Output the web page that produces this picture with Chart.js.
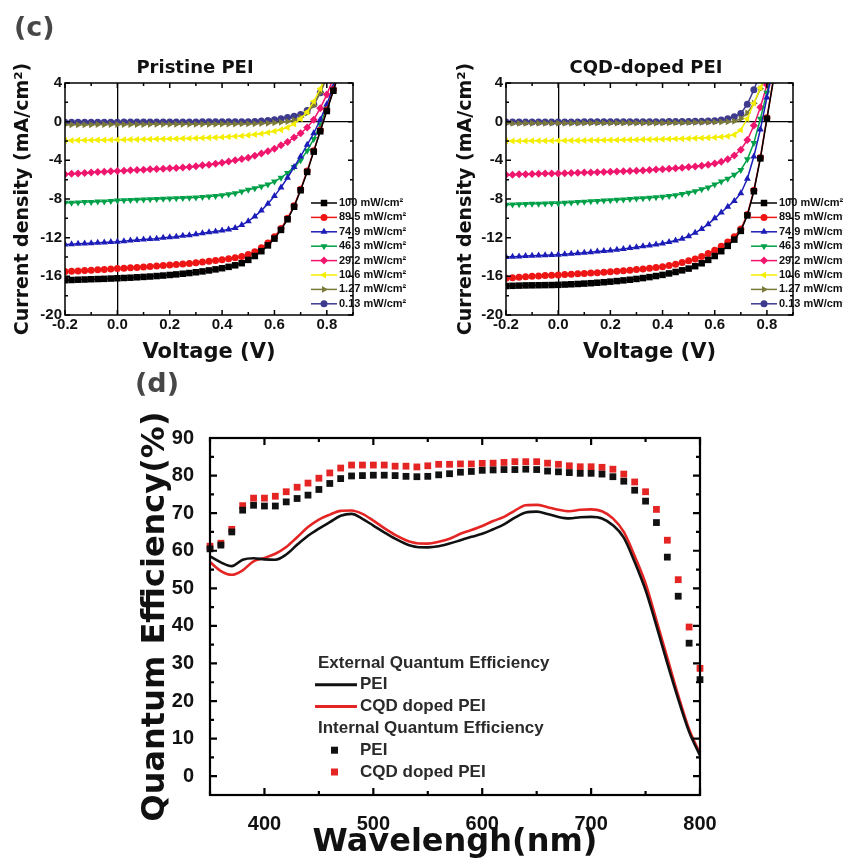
<!DOCTYPE html>
<html>
<head>
<meta charset="utf-8">
<script src="https://cdn.jsdelivr.net/npm/chart.js@4.4.1/dist/chart.umd.min.js"></script>
<style>
  body { margin: 0; background: #fff; }
  #page { position: relative; width: 843px; height: 859px; overflow: hidden; }
  canvas { position: absolute; }
  .lbl { position: absolute; font-family: 'DejaVu Sans', sans-serif; font-weight: bold; white-space: nowrap; }
  .panel { font-size: 27px; line-height: 27px; color: #474747; }
  .ttl { font-size: 18px; line-height: 20px; color: #111; transform: translateX(-50%); }
</style>
</head>
<body>
<div id="page">
  <canvas id="jvPristine" width="430" height="370" style="left:0;top:0"></canvas>
  <canvas id="jvDoped" width="403" height="370" style="left:440px;top:0"></canvas>
  <canvas id="qeChart" width="743" height="489" style="left:100px;top:370px"></canvas>
  <div class="lbl panel" style="left:14px;top:13px">(c)</div>
  <div class="lbl panel" style="left:135px;top:369px">(d)</div>
  <div class="lbl ttl" style="left:195px;top:57px">Pristine PEI</div>
  <div class="lbl ttl" style="left:646px;top:57px">CQD-doped PEI</div>
</div>
<script>
// ---- data: J-V curves (mA/cm2) vs voltage (V)
const voltage = [-0.2, -0.175, -0.15, -0.125, -0.1, -0.075, -0.05, -0.025, 0, 0.025,
  0.05, 0.075, 0.1, 0.125, 0.15, 0.175, 0.2, 0.225, 0.25, 0.275,
  0.3, 0.325, 0.35, 0.375, 0.4, 0.425, 0.45, 0.475, 0.5, 0.525,
  0.55, 0.575, 0.6, 0.625, 0.65, 0.675, 0.7, 0.725, 0.75, 0.775,
  0.8, 0.825, 0.85];
const voltTicks = [-0.2, 0, 0.2, 0.4, 0.6, 0.8];
const currentTicks = [-20, -16, -12, -8, -4, 0, 4];
const powerLabels = ['100 mW/cm²', '89.5 mW/cm²', '74.9 mW/cm²', '46.3 mW/cm²',
  '29.2 mW/cm²', '10.6 mW/cm²', '1.27 mW/cm²', '0.13 mW/cm²'];

// pristine PEI
const pri100 = [-16.4, -16.38, -16.35, -16.33, -16.3, -16.28, -16.26, -16.23, -16.2, -16.17,
  -16.14, -16.1, -16.06, -16.02, -15.97, -15.92, -15.86, -15.8, -15.73, -15.66,
  -15.58, -15.49, -15.39, -15.28, -15.16, -15.02, -14.86, -14.64, -14.3, -13.9,
  -13.4, -12.8, -12.1, -11.2, -10.1, -8.8, -7.1, -5.2, -3.1, -1.0,
  1.1, 3.2, 5.4];
const pri89 = [-15.5, -15.47, -15.44, -15.4, -15.37, -15.33, -15.29, -15.25, -15.2, -15.16,
  -15.12, -15.08, -15.03, -14.98, -14.93, -14.88, -14.83, -14.78, -14.72, -14.66,
  -14.6, -14.53, -14.45, -14.37, -14.28, -14.18, -14.07, -13.95, -13.75, -13.45,
  -13.05, -12.55, -11.9, -11.05, -10.0, -8.7, -7.0, -5.1, -3.0, -0.9,
  1.2, 3.3, 5.5];
const pri75 = [-12.7, -12.67, -12.63, -12.6, -12.57, -12.53, -12.5, -12.46, -12.43, -12.38,
  -12.3, -12.25, -12.2, -12.15, -12.1, -12.0, -11.95, -11.9, -11.8, -11.75,
  -11.65, -11.55, -11.45, -11.35, -11.25, -11.15, -11.0, -10.7, -10.3, -9.8,
  -9.2, -8.5, -7.7, -6.8, -5.8, -4.7, -3.6, -2.4, -1.2, 0.2,
  1.8, 3.6, 5.5];
const pri46 = [-8.4, -8.38, -8.35, -8.32, -8.3, -8.27, -8.25, -8.2, -8.15, -8.12,
  -8.1, -8.07, -8.05, -8.02, -8.0, -7.97, -7.95, -7.92, -7.9, -7.87,
  -7.85, -7.8, -7.75, -7.7, -7.62, -7.52, -7.4, -7.22, -7.05, -6.88,
  -6.7, -6.5, -6.2, -5.8, -5.3, -4.7, -4.0, -3.0, -1.8, -0.3,
  1.4, 3.3, 5.3];
const pri29 = [-5.45, -5.4, -5.35, -5.3, -5.25, -5.2, -5.17, -5.13, -5.1, -5.07,
  -5.03, -5.0, -4.97, -4.93, -4.9, -4.87, -4.83, -4.8, -4.75, -4.7,
  -4.6, -4.52, -4.45, -4.35, -4.25, -4.12, -4.0, -3.87, -3.72, -3.52,
  -3.3, -3.06, -2.8, -2.45, -2.1, -1.65, -1.2, -0.6, 0.2, 1.4,
  2.8, 4.5, 6.2];
const pri11 = [-1.95, -1.94, -1.93, -1.92, -1.91, -1.9, -1.89, -1.88, -1.87, -1.86,
  -1.85, -1.84, -1.83, -1.82, -1.8, -1.79, -1.78, -1.76, -1.75, -1.73,
  -1.71, -1.69, -1.66, -1.63, -1.6, -1.56, -1.52, -1.47, -1.41, -1.33,
  -1.24, -1.13, -1.0, -0.83, -0.6, -0.25, 0.3, 1.0, 2.1, 3.4,
  5.0, 6.8, 8.6];
const pri1 = [-0.32, -0.32, -0.31, -0.31, -0.31, -0.3, -0.3, -0.3, -0.3, -0.29,
  -0.29, -0.29, -0.29, -0.28, -0.28, -0.28, -0.28, -0.27, -0.27, -0.27,
  -0.27, -0.26, -0.26, -0.26, -0.25, -0.25, -0.24, -0.23, -0.22, -0.21,
  -0.19, -0.16, -0.12, -0.06, 0.02, 0.15, 0.45, 0.9, 1.7, 3.0,
  4.6, 6.3, 8.0];
const pri01 = [-0.06, -0.06, -0.06, -0.05, -0.05, -0.05, -0.05, -0.05, -0.05, -0.04,
  -0.04, -0.04, -0.04, -0.04, -0.04, -0.03, -0.03, -0.03, -0.03, -0.03,
  -0.03, -0.02, -0.02, -0.02, -0.02, -0.01, -0.01, 0.0, 0.0, 0.03,
  0.07, 0.12, 0.2, 0.3, 0.42, 0.55, 0.75, 1.15, 1.8, 3.0,
  4.6, 6.3, 8.0];

// CQD-doped PEI
const cqd100 = [-17.0, -16.98, -16.96, -16.94, -16.93, -16.92, -16.91, -16.9, -16.88, -16.85,
  -16.82, -16.79, -16.75, -16.71, -16.66, -16.61, -16.55, -16.49, -16.42, -16.35,
  -16.27, -16.18, -16.08, -15.97, -15.85, -15.7, -15.55, -15.38, -15.2, -14.95,
  -14.65, -14.3, -13.9, -13.4, -12.85, -12.2, -11.3, -9.7, -7.2, -3.8,
  0.3, 4.3, 8.0];
const cqd89 = [-16.2, -16.15, -16.1, -16.05, -16.0, -15.96, -15.92, -15.88, -15.85, -15.82,
  -15.78, -15.74, -15.7, -15.66, -15.62, -15.57, -15.52, -15.47, -15.42, -15.36,
  -15.3, -15.23, -15.16, -15.08, -15.0, -14.88, -14.75, -14.58, -14.4, -14.2,
  -13.95, -13.65, -13.3, -12.9, -12.45, -11.9, -11.1, -9.6, -7.1, -3.7,
  0.4, 4.4, 8.0];
const cqd75 = [-14.0, -13.97, -13.94, -13.9, -13.87, -13.84, -13.82, -13.8, -13.78, -13.72,
  -13.66, -13.6, -13.55, -13.5, -13.44, -13.38, -13.32, -13.24, -13.16, -13.08,
  -13.0, -12.9, -12.8, -12.7, -12.6, -12.45, -12.3, -12.1, -11.85, -11.5,
  -11.1, -10.6, -10.0, -9.4, -8.8, -8.2, -7.4, -5.9, -3.6, -0.8,
  2.5, 5.8, 9.0];
const cqd46 = [-8.6, -8.58, -8.55, -8.52, -8.5, -8.48, -8.46, -8.45, -8.43, -8.4,
  -8.36, -8.32, -8.28, -8.24, -8.2, -8.16, -8.12, -8.08, -8.04, -8.0,
  -7.96, -7.92, -7.88, -7.83, -7.78, -7.7, -7.6, -7.48, -7.35, -7.2,
  -7.0, -6.8, -6.5, -6.2, -5.9, -5.5, -5.0, -3.9, -2.2, 0.3,
  3.0, 5.8, 8.6];
const cqd29 = [-5.5, -5.48, -5.45, -5.43, -5.41, -5.39, -5.37, -5.36, -5.35, -5.33,
  -5.31, -5.29, -5.27, -5.25, -5.23, -5.21, -5.19, -5.16, -5.13, -5.1,
  -5.07, -5.04, -5.0, -4.96, -4.92, -4.87, -4.82, -4.76, -4.7, -4.63,
  -4.55, -4.45, -4.32, -4.15, -3.9, -3.5, -2.9, -1.9, -0.4, 1.5,
  3.8, 6.3, 9.0];
const cqd11 = [-2.0, -2.0, -1.99, -1.99, -1.98, -1.98, -1.97, -1.97, -1.96, -1.96,
  -1.95, -1.94, -1.94, -1.93, -1.92, -1.91, -1.9, -1.89, -1.88, -1.87,
  -1.86, -1.85, -1.84, -1.83, -1.82, -1.8, -1.78, -1.76, -1.74, -1.72,
  -1.7, -1.67, -1.63, -1.57, -1.5, -1.35, -0.85, 0.3, 1.9, 3.5,
  5.3, 7.2, 9.0];
const cqd1 = [-0.18, -0.18, -0.18, -0.17, -0.17, -0.17, -0.17, -0.16, -0.16, -0.16,
  -0.16, -0.16, -0.15, -0.15, -0.15, -0.15, -0.15, -0.14, -0.14, -0.14,
  -0.14, -0.14, -0.13, -0.13, -0.13, -0.12, -0.12, -0.11, -0.1, -0.09,
  -0.08, -0.07, -0.05, -0.03, 0.0, 0.05, 0.3, 0.9, 1.9, 3.4,
  5.0, 6.8, 8.6];
const cqd01 = [-0.04, -0.04, -0.04, -0.04, -0.04, -0.03, -0.03, -0.03, -0.03, -0.03,
  -0.03, -0.03, -0.02, -0.02, -0.02, -0.02, -0.02, -0.02, -0.01, -0.01,
  -0.01, -0.01, 0.0, 0.0, 0.0, 0.01, 0.01, 0.02, 0.03, 0.04,
  0.05, 0.07, 0.1, 0.18, 0.3, 0.5, 0.85, 1.8, 3.3, 5.0,
  6.8, 8.6, 10.0];

// ---- data: quantum efficiency (%) vs wavelength (nm)
const wavelength = [350, 360, 370, 380, 390, 400, 410, 420, 430, 440,
  450, 460, 470, 480, 490, 500, 510, 520, 530, 540,
  550, 560, 570, 580, 590, 600, 610, 620, 630, 640,
  650, 660, 670, 680, 690, 700, 710, 720, 730, 740,
  750, 760, 770, 780, 790, 800];
const wlTicks = [400, 500, 600, 700, 800];
const qeTicks = [0, 10, 20, 30, 40, 50, 60, 70, 80, 90];
const eqePei = [58.5, 56.9, 55.9, 57.6, 58.0, 57.7, 57.6, 59.0, 61.6, 64.0,
  65.9, 67.6, 69.3, 69.8, 68.5, 66.7, 64.9, 63.2, 61.8, 61.0,
  60.9, 61.2, 61.9, 62.8, 63.7, 64.5, 65.7, 67.0, 68.8, 70.2,
  70.4, 69.8, 69.0, 68.6, 68.9, 69.0, 68.6, 66.8, 63.5, 57.0,
  49.5, 40.0, 30.0, 20.5, 11.8, 5.5];
const eqeCqd = [57.0, 54.6, 53.6, 54.8, 57.2, 58.1, 59.2, 61.0, 63.6, 66.3,
  68.3, 69.6, 70.6, 70.7, 69.8, 68.0, 66.0, 64.2, 62.8, 62.0,
  61.9, 62.4, 63.2, 64.5, 65.5, 66.6, 67.9, 69.0, 70.7, 72.1,
  72.2, 71.6, 70.9, 70.5, 70.9, 71.0, 70.5, 68.6, 65.0, 58.6,
  51.3, 41.5, 31.5, 21.5, 12.5, 6.0];
const iqePei = [60.5, 61.5, 65.0, 70.8, 72.1, 71.9, 71.9, 73.0, 73.9, 74.8,
  76.3, 77.9, 79.2, 79.9, 80.0, 80.1, 80.1, 80.0, 79.8, 79.7,
  79.8, 80.2, 80.5, 80.9, 81.1, 81.4, 81.5, 81.6, 81.6, 81.7,
  81.6, 81.2, 81.0, 80.8, 80.6, 80.6, 80.4, 79.7, 78.5, 76.1,
  73.2, 67.5, 58.3, 47.9, 35.4, 25.7];
const iqeCqd = [61.2, 62.0, 65.7, 72.0, 74.0, 74.0, 74.5, 75.7, 76.9, 78.0,
  79.3, 80.7, 82.0, 82.8, 82.8, 82.8, 82.8, 82.5, 82.5, 82.3,
  82.6, 83.0, 83.0, 83.1, 83.1, 83.25, 83.3, 83.5, 83.7, 83.7,
  83.7, 83.3, 83.0, 82.6, 82.35, 82.35, 82.2, 81.7, 80.4, 78.3,
  75.7, 71.0, 62.8, 52.3, 39.7, 28.7];

// ---- styles
const seriesColors = ['#000000', '#ee1515', '#1c1cb8', '#00a048', '#f0166e', '#f4ee00', '#7b7a3a', '#3e3a8e'];
const seriesMarks = [['rect', 0, 4.6], ['circle', 0, 3.5], ['triangle', 0, 4.0], ['triangle', 180, 4.0],
  ['rectRot', 0, 4.0], ['triangle', -90, 4.0], ['triangle', 90, 4.0], ['circle', 0, 3.5]];

Chart.defaults.font.family = "'Liberation Sans', Arial, sans-serif";
Chart.defaults.font.weight = 'bold';
Chart.defaults.color = '#111';

// box round the plot with inward tick marks on all four sides
const framePlugin = {
  id: 'frame',
  afterDraw(chart, args, o) {
    const {ctx, chartArea: a, scales: {x, y}} = chart;
    ctx.save();
    ctx.strokeStyle = '#000';
    ctx.lineWidth = o.lineWidth;
    ctx.strokeRect(a.left, a.top, a.right - a.left, a.bottom - a.top);
    const marks = (scale, step, major, fn) => {
      const n = Math.round((scale.max - scale.min) / step);
      for (let k = 0; k <= n; k++) {
        const v = scale.min + k * step;
        const isMajor = Math.abs(v / major - Math.round(v / major)) < 1e-6;
        fn(scale.getPixelForValue(v), isMajor ? o.major : o.minor);
      }
    };
    ctx.beginPath();
    marks(x, o.xMinor, o.xMajor, (px, len) => {
      ctx.moveTo(px, a.bottom); ctx.lineTo(px, a.bottom - len);
      ctx.moveTo(px, a.top); ctx.lineTo(px, a.top + len);
    });
    marks(y, o.yMinor, o.yMajor, (py, len) => {
      ctx.moveTo(a.left, py); ctx.lineTo(a.left + len, py);
      ctx.moveTo(a.right, py); ctx.lineTo(a.right - len, py);
    });
    ctx.stroke();
    ctx.restore();
  }
};

// line + marker legend used by the two J-V panels
const jvLegendPlugin = {
  id: 'jvLegend',
  afterDraw(chart, args, o) {
    const ctx = chart.ctx;
    ctx.save();
    ctx.font = "bold 11px 'Liberation Sans', Arial, sans-serif";
    ctx.textBaseline = 'middle';
    chart.data.datasets.forEach((ds, i) => {
      const y = o.y + i * o.dy;
      ctx.strokeStyle = ds.borderColor;
      ctx.fillStyle = ds.borderColor;
      ctx.lineWidth = 1.5;
      ctx.beginPath();
      ctx.moveTo(o.x, y);
      ctx.lineTo(o.x + o.len, y);
      ctx.stroke();
      Chart.helpers.drawPoint(ctx, {pointStyle: ds.pointStyle, rotation: ds.rotation, radius: ds.pointRadius, borderWidth: 0}, o.x + o.len / 2, y);
      ctx.fillStyle = '#111';
      ctx.fillText(ds.label, o.x + o.len + 2, y);
    });
    ctx.restore();
  }
};

function jvChart(id, curves, yAxisWidth, rightPad, titlePad) {
  const datasets = curves.map((ys, i) => ({
    label: powerLabels[i],
    data: voltage.map((v, k) => ({x: v, y: ys[k]})),
    borderColor: seriesColors[i],
    backgroundColor: seriesColors[i],
    borderWidth: 1.5,
    pointStyle: seriesMarks[i][0],
    rotation: seriesMarks[i][1],
    pointRadius: seriesMarks[i][2],
    pointBorderWidth: 0
  }));
  const zeroLine = c => (c.tick && c.tick.value === 0) ? '#000' : 'rgba(0,0,0,0)';
  return new Chart(document.getElementById(id), {
    type: 'line',
    data: {datasets},
    plugins: [framePlugin, jvLegendPlugin],
    options: {
      responsive: false,
      animation: false,
      layout: {padding: {top: 83, right: rightPad, left: 0, bottom: 0}},
      plugins: {
        legend: {display: false},
        tooltip: {enabled: false},
        frame: {lineWidth: 1.5, xMinor: 0.1, xMajor: 0.2, yMinor: 2, yMajor: 4, major: 5, minor: 3},
        jvLegend: {x: 311, y: 203, dy: 14.4, len: 26}
      },
      scales: {
        x: {
          type: 'linear', min: -0.2, max: 0.9,
          afterBuildTicks: s => { s.ticks = voltTicks.map(v => ({value: v})); },
          afterFit: s => { s.height = 55; },
          ticks: {font: {size: 15, weight: 'bold'}, padding: 1, callback: v => v.toFixed(1)},
          grid: {drawTicks: false, color: zeroLine, lineWidth: 1.3},
          border: {display: false},
          title: {display: true, text: 'Voltage (V)', color: '#111',
            font: {family: "'DejaVu Sans', sans-serif", size: 21, weight: 'bold'}, padding: {top: 0, bottom: 5}}
        },
        y: {
          min: -20, max: 4,
          afterBuildTicks: s => { s.ticks = currentTicks.map(v => ({value: v})); },
          afterFit: s => { s.width = yAxisWidth; },
          ticks: {font: {size: 15, weight: 'bold'}, padding: 3, callback: v => String(v)},
          grid: {drawTicks: false, color: zeroLine, lineWidth: 1.3},
          border: {display: false},
          title: {display: true, text: 'Current density (mA/cm²)', color: '#111',
            font: {family: "'DejaVu Sans', sans-serif", size: 19, weight: 'bold'}, padding: {top: titlePad, bottom: 0}}
        }
      }
    }
  });
}

jvChart('jvPristine', [pri100, pri89, pri75, pri46, pri29, pri11, pri1, pri01], 65, 77, 12);
jvChart('jvDoped', [cqd100, cqd89, cqd75, cqd46, cqd29, cqd11, cqd1, cqd01], 66, 50, 15);

// legend of the quantum efficiency panel: two headed groups
const qeLegendPlugin = {
  id: 'qeLegend',
  afterDraw(chart, args, o) {
    const ctx = chart.ctx;
    const sets = chart.data.datasets;
    ctx.save();
    ctx.font = "bold 17px 'Liberation Sans', Arial, sans-serif";
    ctx.textBaseline = 'middle';
    let row = 0;
    o.groups.forEach(g => {
      ctx.fillStyle = '#2a2a2a';
      ctx.fillText(g.title, o.x, o.y + row * o.dy);
      row++;
      g.sets.forEach(i => {
        const ds = sets[i];
        const y = o.y + row * o.dy;
        if (ds.showLine === false) {
          ctx.fillStyle = ds.backgroundColor;
          ctx.fillRect(o.x + 13, y - 3.5, 7, 7);
        } else {
          ctx.strokeStyle = ds.borderColor;
          ctx.lineWidth = 3;
          ctx.beginPath();
          ctx.moveTo(o.x - 3, y);
          ctx.lineTo(o.x + 39, y);
          ctx.stroke();
        }
        ctx.fillStyle = '#2a2a2a';
        ctx.fillText(ds.label, o.x + 42, y);
        row++;
      });
    });
    ctx.restore();
  }
};

new Chart(document.getElementById('qeChart'), {
  type: 'line',
  data: {
    datasets: [
      {label: 'PEI', data: wavelength.map((w, k) => ({x: w, y: eqePei[k]})),
        borderColor: '#111', borderWidth: 2.6, pointRadius: 0, cubicInterpolationMode: 'monotone'},
      {label: 'CQD doped PEI', data: wavelength.map((w, k) => ({x: w, y: eqeCqd[k]})),
        borderColor: '#e52424', borderWidth: 2.6, pointRadius: 0, cubicInterpolationMode: 'monotone'},
      {label: 'PEI', data: wavelength.map((w, k) => ({x: w, y: iqePei[k]})),
        showLine: false, pointStyle: 'rect', pointRadius: 4.8, pointBorderWidth: 0,
        backgroundColor: '#111', borderColor: '#111', clip: 8},
      {label: 'CQD doped PEI', data: wavelength.map((w, k) => ({x: w, y: iqeCqd[k]})),
        showLine: false, pointStyle: 'rect', pointRadius: 4.8, pointBorderWidth: 0,
        backgroundColor: '#e52424', borderColor: '#e52424', clip: 8}
    ]
  },
  plugins: [framePlugin, qeLegendPlugin],
  options: {
    responsive: false,
    animation: false,
    layout: {padding: {top: 68, right: 143, left: 0, bottom: 0}},
    plugins: {
      legend: {display: false},
      tooltip: {enabled: false},
      frame: {lineWidth: 2.2, xMinor: 50, xMajor: 100, yMinor: 5, yMajor: 10, major: 7, minor: 4},
      qeLegend: {x: 218, y: 293, dy: 21.8, groups: [
        {title: 'External Quantum Efficiency', sets: [0, 1]},
        {title: 'Internal Quantum Efficiency', sets: [2, 3]}
      ]}
    },
    scales: {
      x: {
        type: 'linear', min: 350, max: 800,
        afterBuildTicks: s => { s.ticks = wlTicks.map(v => ({value: v})); },
        afterFit: s => { s.height = 64; },
        ticks: {font: {size: 20, weight: 'bold'}, padding: 9, callback: v => String(v)},
        grid: {display: false},
        border: {display: false},
        title: {display: true, text: 'Wavelengh(nm)', color: '#111',
          font: {family: "'DejaVu Sans', sans-serif", size: 32, weight: 'bold', lineHeight: 1}, padding: {top: 0, bottom: 0}}
      },
      y: {
        min: -5, max: 90,
        afterBuildTicks: s => { s.ticks = qeTicks.map(v => ({value: v})); },
        afterFit: s => { s.width = 110; },
        ticks: {font: {size: 20, weight: 'bold'}, padding: 8, callback: v => String(v)},
        grid: {display: false},
        border: {display: false},
        title: {display: true, text: 'Quantum Efficiency(%)', color: '#111',
          font: {family: "'DejaVu Sans', sans-serif", size: 32, weight: 'bold'}, padding: {top: 36, bottom: 0}}
      }
    }
  }
});
</script>
</body>
</html>
